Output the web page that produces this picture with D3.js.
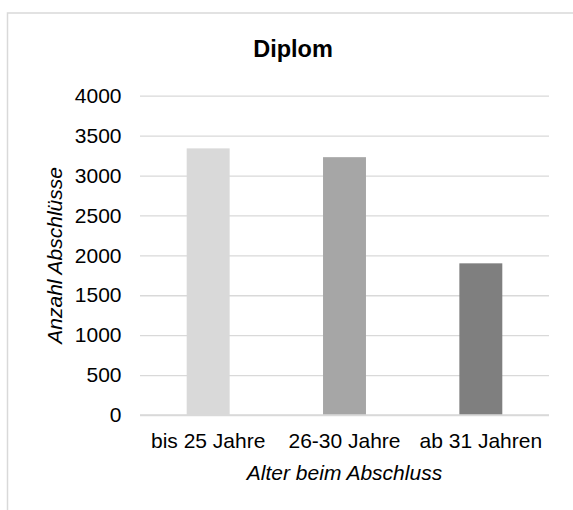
<!DOCTYPE html>
<html>
<head>
<meta charset="utf-8">
<script src="https://cdn.jsdelivr.net/npm/d3@7/dist/d3.min.js"></script>
<style>
  html, body { margin: 0; padding: 0; background: #fff; }
  svg { display: block; font-family: "Liberation Sans", Arial, sans-serif; }
</style>
</head>
<body>
<svg id="chart" width="573" height="510"></svg>
<script>
const categories = ["bis 25 Jahre", "26-30 Jahre", "ab 31 Jahren"];
const values = [3340, 3230, 1900];
const colors = ["#d9d9d9", "#a6a6a6", "#7f7f7f"];
const yTicks = [0, 500, 1000, 1500, 2000, 2500, 3000, 3500, 4000];
const title = "Diplom";
const xTitle = "Alter beim Abschluss";
const yTitle = "Anzahl Abschlüsse";

(function () {
const svg = d3.select("#chart");

// chart area border (extends beyond the visible crop)
svg.append("rect")
  .attr("x", 7.5).attr("y", 13)
  .attr("width", 600).attr("height", 520)
  .attr("fill", "#fff")
  .attr("stroke", "#d9d9d9")
  .attr("stroke-width", 1.5);

const pLeft = 140, pRight = 549, pTop = 95.7, pBottom = 415;

const x = d3.scaleBand()
  .domain(categories)
  .range([pLeft, pRight])
  .paddingInner(0.685)
  .paddingOuter(0.3425);

const y = d3.scaleLinear()
  .domain([0, 4000])
  .range([pBottom, pTop]);

// y axis with gridlines
const yAxis = svg.append("g")
  .attr("transform", `translate(${pLeft},0)`)
  .call(d3.axisLeft(y).tickValues(yTicks).tickSize(-(pRight - pLeft)).tickPadding(18.5).tickFormat(d3.format("d")));
yAxis.select(".domain").remove();
yAxis.selectAll(".tick line").attr("stroke", "#d9d9d9").attr("stroke-width", 1.3);
yAxis.selectAll(".tick text").attr("font-size", 21).attr("fill", "#000")
  .attr("font-family", "Liberation Sans, Arial, sans-serif");

// bars
svg.append("g").selectAll("rect")
  .data(values)
  .join("rect")
  .attr("x", (d, i) => x(categories[i]))
  .attr("width", x.bandwidth())
  .attr("y", d => y(d))
  .attr("height", d => y(0) - y(d))
  .attr("fill", (d, i) => colors[i]);

// x axis
const xAxis = svg.append("g")
  .attr("transform", `translate(0,${pBottom})`)
  .call(d3.axisBottom(x).tickSize(0).tickPadding(18));
xAxis.select(".domain").remove();
xAxis.selectAll(".tick text").attr("font-size", 21).attr("fill", "#000")
  .attr("font-family", "Liberation Sans, Arial, sans-serif");

// baseline
svg.append("line")
  .attr("x1", pLeft).attr("x2", pRight)
  .attr("y1", y(0)).attr("y2", y(0))
  .attr("stroke", "#d9d9d9").attr("stroke-width", 1.5);

// title
svg.append("text")
  .attr("x", 293).attr("y", 57)
  .attr("text-anchor", "middle")
  .attr("font-size", 23.5).attr("font-weight", "bold")
  .attr("fill", "#000")
  .text(title);

// x axis title
svg.append("text")
  .attr("x", (pLeft + pRight) / 2).attr("y", 480)
  .attr("text-anchor", "middle")
  .attr("font-size", 21).attr("font-style", "italic")
  .attr("fill", "#000")
  .text(xTitle);

// y axis title
svg.append("text")
  .attr("transform", `translate(61.5,${(pTop + pBottom) / 2}) rotate(-90)`)
  .attr("text-anchor", "middle")
  .attr("font-size", 21).attr("font-style", "italic")
  .attr("fill", "#000")
  .text(yTitle);
})();
</script>
</body>
</html>
